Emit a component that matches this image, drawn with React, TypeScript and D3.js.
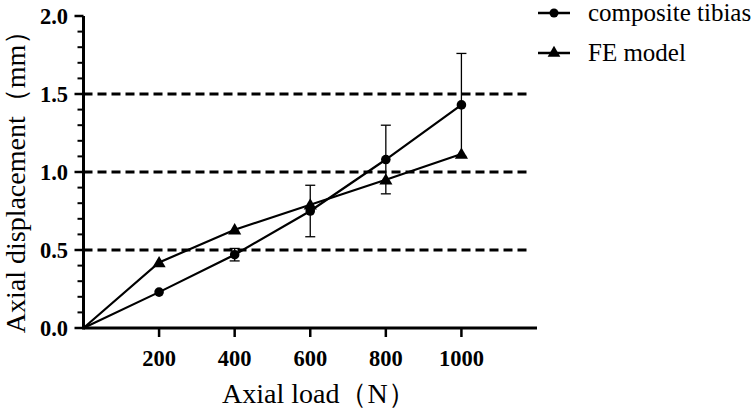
import * as d3 from "d3"

const loads = [0, 200, 400, 600, 800, 1000]
const compositeTibias = [0, 0.23, 0.47, 0.75, 1.08, 1.43]
const compositeSd = [0, 0.01, 0.04, 0.165, 0.22, 0.33]
const feModel = [0, 0.42, 0.63, 0.79, 0.95, 1.115]
const xTicks = [200, 400, 600, 800, 1000]
const yTicks = [0, 0.5, 1.0, 1.5, 2.0]
const refLines = [0.5, 1.0, 1.5]
const seriesNames = ["composite tibias", "FE model"]

const W = 754
const H = 410
const serif = '"Liberation Serif", "Times New Roman", serif'

function Triangle({ cx, cy, s }: { cx: number; cy: number; s: number }) {
  const path = d3.symbol(d3.symbolTriangle, s)() || ""
  return <path d={path} transform={`translate(${cx},${cy + 1})`} fill="#000" />
}

export default function App() {
  const x = d3.scaleLinear().domain([0, 1200]).range([83.5, 537])
  const y = d3.scaleLinear().domain([0, 2]).range([328, 16])

  const line = d3
    .line<number>()
    .x((_, i) => x(loads[i]))
    .y((d) => y(d))

  const minorTicks = d3.range(0, 2.0001, 0.1).filter((v) => Math.abs(v * 2 - Math.round(v * 2)) > 1e-6)

  const tickStyle = { fontFamily: serif, fontWeight: "bold" as const, fontSize: 22.5 }
  const textStyle = { fontFamily: serif, fontSize: 25 }
  const titleStyle = { fontFamily: serif, fontSize: 28 }

  return (
    <svg width={W} height={H} style={{ position: "absolute", left: 0, top: 0, background: "#fff" }}>
      {/* dashed reference lines */}
      {refLines.map((v) => (
        <line
          key={v}
          x1={x(0)}
          x2={530}
          y1={y(v)}
          y2={y(v)}
          stroke="#000"
          strokeWidth={3}
          strokeDasharray="9,5"
        />
      ))}

      {/* axes */}
      <line x1={x(0)} x2={x(1200)} y1={y(0)} y2={y(0)} stroke="#000" strokeWidth={3} />
      <line x1={x(0)} x2={x(0)} y1={y(0) + 1.5} y2={y(2)} stroke="#000" strokeWidth={3} />
      {yTicks.map((v) => (
        <g key={v}>
          <line x1={x(0) - 9} x2={x(0)} y1={y(v)} y2={y(v)} stroke="#000" strokeWidth={2.5} />
          <text x={68} y={y(v)} dy="0.36em" textAnchor="end" style={tickStyle}>
            {d3.format(".1f")(v)}
          </text>
        </g>
      ))}
      {minorTicks.map((v) => (
        <line key={v} x1={x(0) - 6} x2={x(0)} y1={y(v)} y2={y(v)} stroke="#000" strokeWidth={2} />
      ))}
      {xTicks.map((v) => (
        <g key={v}>
          <line x1={x(v)} x2={x(v)} y1={y(0)} y2={y(0) + 9} stroke="#000" strokeWidth={2.5} />
          <text x={x(v)} y={366} textAnchor="middle" style={tickStyle}>
            {v}
          </text>
        </g>
      ))}

      {/* error bars */}
      {loads.map((v, i) =>
        compositeSd[i] > 0.02 ? (
          <g key={v} stroke="#000" strokeWidth={1.3}>
            <line x1={x(v)} x2={x(v)} y1={y(compositeTibias[i] - compositeSd[i])} y2={y(compositeTibias[i] + compositeSd[i])} />
            <line x1={x(v) - 5} x2={x(v) + 5} y1={y(compositeTibias[i] + compositeSd[i])} y2={y(compositeTibias[i] + compositeSd[i])} />
            <line x1={x(v) - 5} x2={x(v) + 5} y1={y(compositeTibias[i] - compositeSd[i])} y2={y(compositeTibias[i] - compositeSd[i])} />
          </g>
        ) : null,
      )}

      {/* series */}
      <path d={line(compositeTibias) || ""} fill="none" stroke="#000" strokeWidth={2.2} />
      <path d={line(feModel) || ""} fill="none" stroke="#000" strokeWidth={2.2} />
      {loads.slice(1).map((v, i) => (
        <circle key={v} cx={x(v)} cy={y(compositeTibias[i + 1])} r={4.8} fill="#000" />
      ))}
      {loads.slice(1).map((v, i) => (
        <Triangle key={v} cx={x(v)} cy={y(feModel[i + 1])} s={75} />
      ))}

      {/* legend */}
      <g>
        <line x1={538} x2={570} y1={13} y2={13} stroke="#000" strokeWidth={2.5} />
        <circle cx={554} cy={13} r={4.5} fill="#000" />
        <text x={588} y={21} style={textStyle}>
          {seriesNames[0]}
        </text>
        <line x1={538} x2={570} y1={53} y2={53} stroke="#000" strokeWidth={2.5} />
        <Triangle cx={554} cy={52} s={70} />
        <text x={588} y={61} style={textStyle}>
          {seriesNames[1]}
        </text>
      </g>

      {/* axis titles */}
      <text x={222} y={403} style={titleStyle}>
        Axial load（N）
      </text>
      <text transform="translate(25,175) rotate(-90)" textAnchor="middle" style={titleStyle}>
        Axial displacement（mm）
      </text>
    </svg>
  )
}
